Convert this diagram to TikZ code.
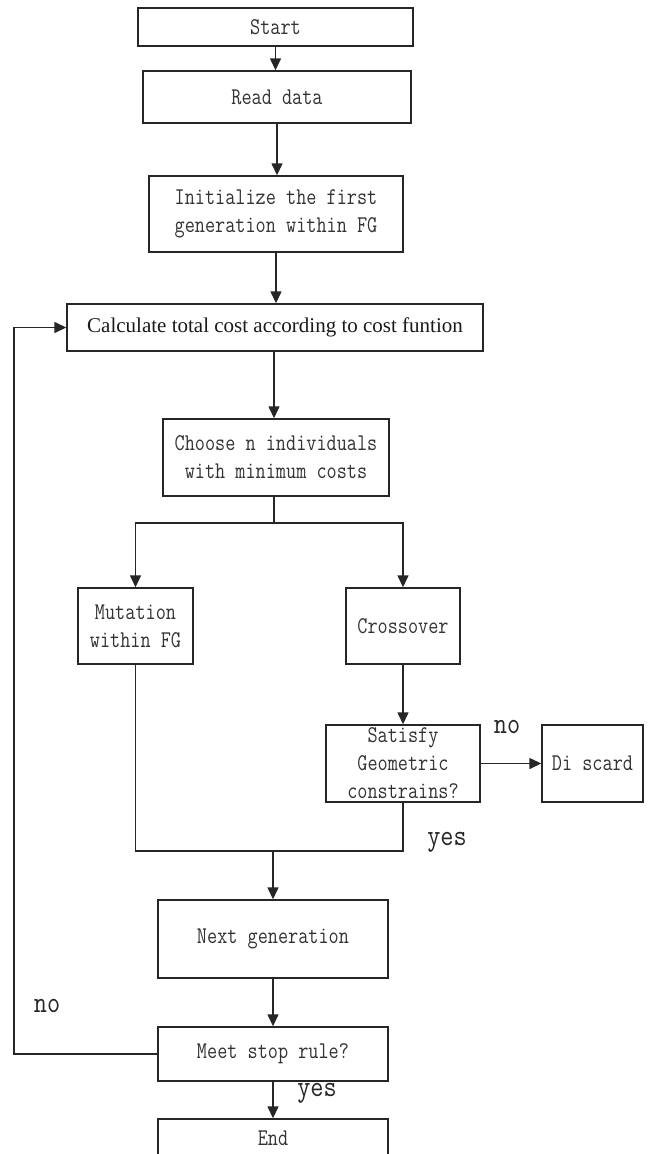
\documentclass[tikz,border=0pt]{standalone}
\usepackage{fontspec}
\usepackage{xcolor}
\usepackage{tikz}
\usetikzlibrary{arrows.meta,calc}
\newfontfamily\boxfont[FakeStretch=0.82]{Latin Modern Mono}
\newfontfamily\labelfont[FakeStretch=0.85]{Latin Modern Mono}
\newfontfamily\calcfont{Liberation Serif}

\begin{document}
\begin{tikzpicture}[x=1pt, y=-1pt,
		flowbox/.style={draw=black!85, line width=1.4pt, inner sep=0pt, align=center, text=black!80,
			font=\boxfont\fontsize{24}{28}\selectfont},
		flowarrow/.style={draw=black!85, line width=1.4pt, -{Triangle[length=12pt,width=11pt]}},
		flowline/.style={draw=black!85, line width=1.4pt},
		answer/.style={text=black!85, font=\labelfont\fontsize{30}{30}\selectfont}]
		\useasboundingbox (0,0) rectangle (649,1154);
		\clip (0,0) rectangle (649,1154);
		\node[flowbox, minimum width=275pt, minimum height=38pt] (start) at (275.5,27) {Start};
		\node[flowbox, minimum width=268pt, minimum height=52pt] (read) at (277,97) {Read data};
		\node[flowbox, minimum width=254pt, minimum height=76pt] (init) at (276,214) {Initialize the first\\generation within FG};
		\node[flowbox, minimum width=416pt, minimum height=47pt, text=black!90,
			font=\calcfont\fontsize{21}{24}\selectfont] (calc) at (275,327.5) {Calculate total cost according to cost funtion};
		\node[flowbox, minimum width=226pt, minimum height=77pt] (choose) at (276,457.5) {Choose n individuals\\with minimum costs};
		\node[flowbox, minimum width=115pt, minimum height=76pt] (mutation) at (135.5,626) {Mutation\\within FG};
		\node[flowbox, minimum width=114pt, minimum height=76pt] (crossover) at (403,626) {Crossover};
		\node[flowbox, minimum width=154pt, minimum height=77pt] (satisfy) at (403,763.5) {Satisfy\\Geometric\\constrains?};
		\node[flowbox, minimum width=101pt, minimum height=77pt] (discard) at (592.5,763.5) {Di scard};
		\node[flowbox, minimum width=230pt, minimum height=78pt] (nextgen) at (273,939) {Next generation};
		\node[flowbox, minimum width=230pt, minimum height=54pt] (meet) at (273,1054) {Meet stop rule?};
		\node[flowbox, minimum width=230pt, minimum height=38pt] (finish) at (273,1138) {End};
		\coordinate (split) at (274,523);
		\coordinate (merge) at (273,851);
		\coordinate (back) at (14,1054);
		\draw[flowarrow] (start.south) -- (start.south |- read.north);
		\draw[flowarrow] (read.south) -- (read.south |- init.north);
		\draw[flowarrow] (init.south) -- (init.south |- calc.north);
		\draw[flowarrow] (calc.south -| split) -- (split |- choose.north);
		\draw[flowline] (choose.south -| split) -- (split);
		\draw[flowarrow] (split) -| (mutation.north);
		\draw[flowarrow] (split) -| (crossover.north);
		\draw[flowarrow] (crossover.south) -- (satisfy.north);
		\draw[flowarrow] (satisfy.east) -- (discard.west);
		\draw[flowline] (satisfy.south) |- (merge);
		\draw[flowline] (mutation.south) |- (merge);
		\draw[flowarrow] (merge) -- (merge |- nextgen.north);
		\draw[flowarrow] (nextgen.south) -- (meet.north);
		\draw[flowarrow] (meet.south) -- (finish.north);
		\draw[flowarrow] (meet.west) -- (back) |- (calc.west);
		\node[answer] (satno) at (507,727) {no};
		\node[answer] (satyes) at (447,842) {yes};
		\node[answer] (meetno) at (47,1006) {no};
		\node[answer] (meetyes) at (317,1093) {yes};
	\end{tikzpicture}
\end{document}
